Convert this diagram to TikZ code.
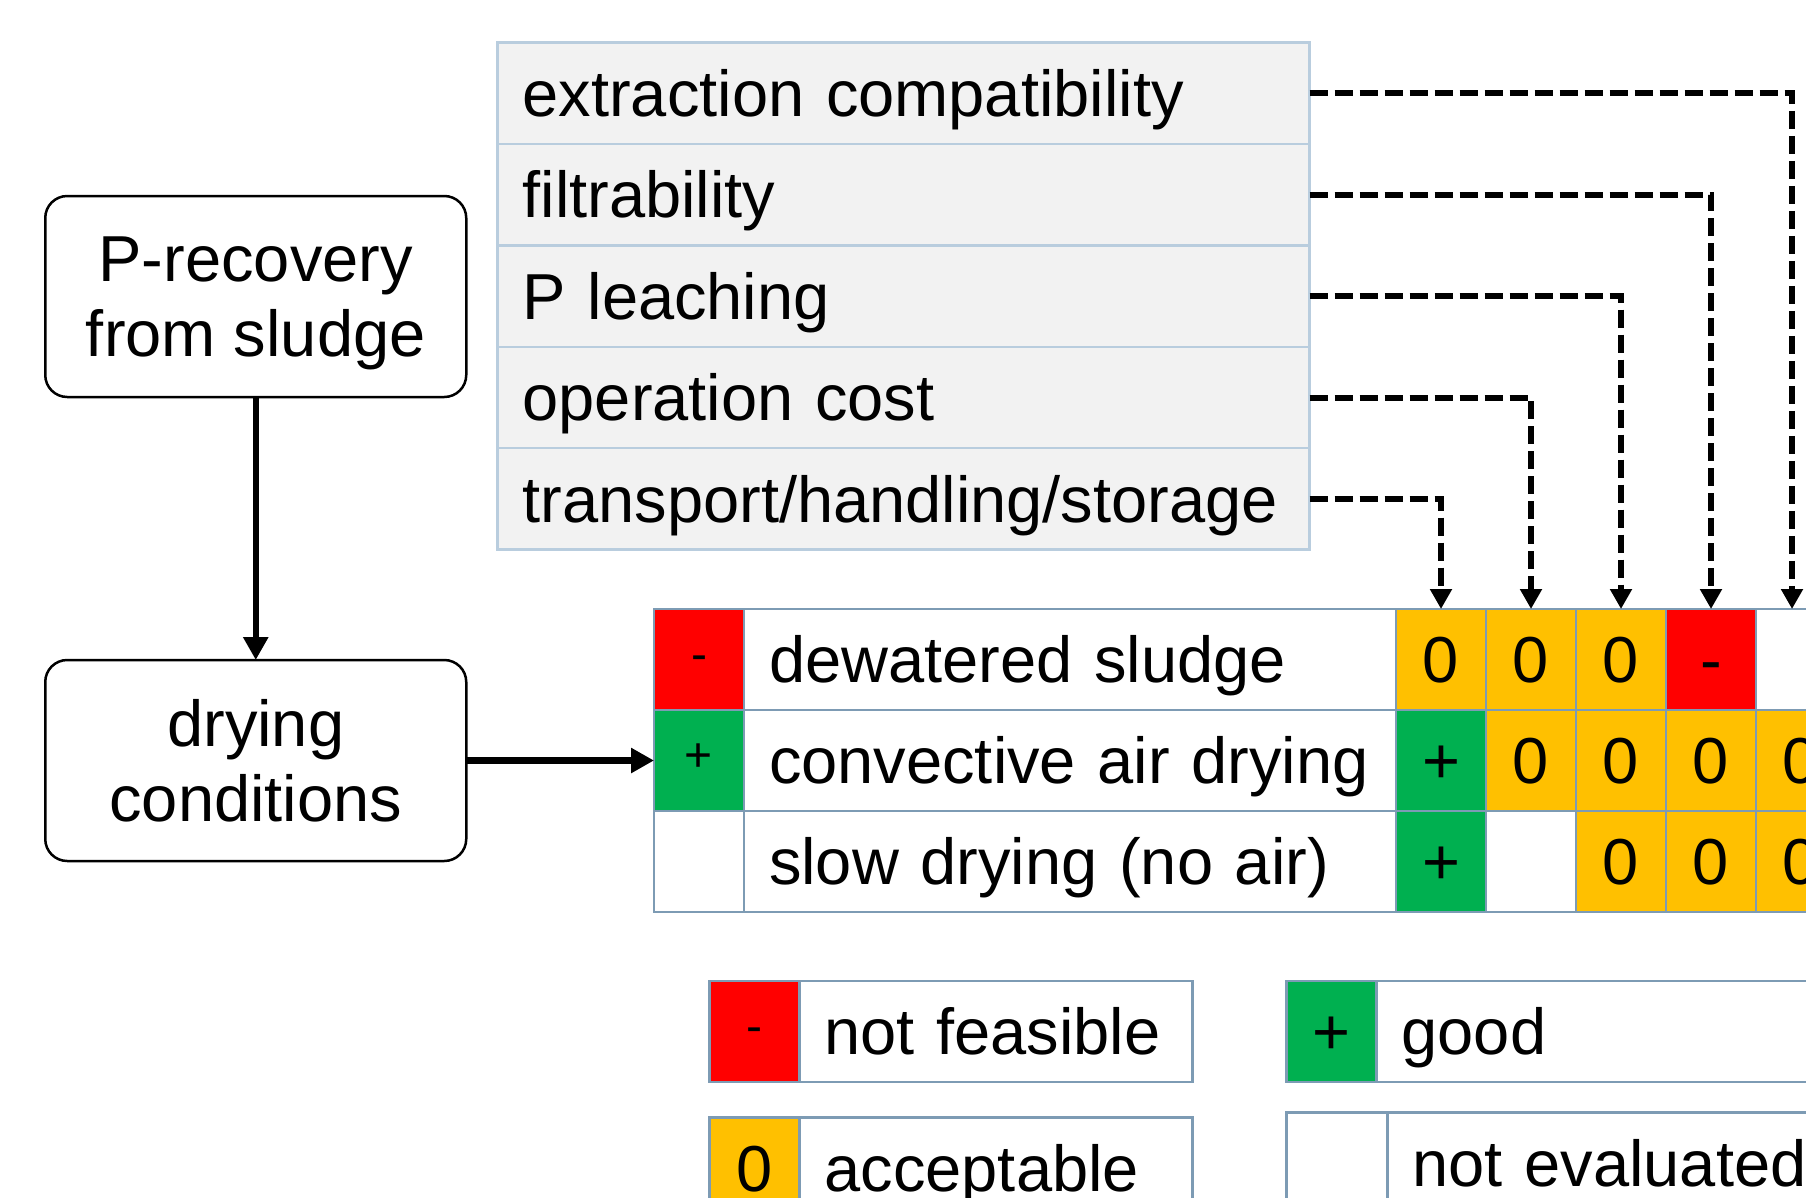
\documentclass[tikz,border=0pt]{standalone}
\usepackage{fontspec}
\setmainfont{Liberation Sans}
\usepackage{tikz}
\usetikzlibrary{positioning,arrows.meta}
\definecolor{critfill}{RGB}{242,242,242}
\definecolor{critline}{RGB}{185,205,222}
\definecolor{tblline}{RGB}{125,155,180}
\definecolor{cred}{RGB}{255,0,0}
\definecolor{camber}{RGB}{255,192,0}
\definecolor{cgreen}{RGB}{0,176,80}
\tikzset{
  big/.style={font=\fontsize{65}{75}\selectfont},
  flowbox/.style={draw,
    rounded corners=22pt,
    line width=2.5pt,
    outer sep=0pt,
    minimum width=421pt,
    minimum height=201pt,
    align=center,
    big},
  flowarrow/.style={->,>={Triangle[length=23pt,width=24pt]},line width=6.5pt},
  dasharrow/.style={->,>={Triangle[length=20pt,width=21pt]},line width=6pt,
    dash pattern=on 18pt off 7pt},
  critrow/.style={draw=critline,fill=critfill,line width=2.5pt,outer sep=0pt,
    inner xsep=25pt,text width=762pt,align=left,minimum height=101.4pt,
    text height=46.5pt,text depth=0pt,big},
  cell/.style={draw=tblline,line width=2.5pt,outer sep=0pt,inner sep=0pt,
    minimum width=90pt,minimum height=101pt,text height=46.5pt,text depth=0pt,big},
  labelcell/.style={cell,inner xsep=25pt,text width=#1,align=left},
  redcell/.style={cell,fill=cred},
  ambercell/.style={cell,fill=camber},
  greencell/.style={cell,fill=cgreen},
  small sym/.style={font=\fontsize{48}{56}\selectfont,text height=34pt,text depth=12pt}
}
\begin{document}
\begin{tikzpicture}[x=1pt,y=-1pt]
      \useasboundingbox (0,0) rectangle (1806,1197);
      \clip (0,0) rectangle (1806,1197);
      \fill[white] (0,0) rectangle (1806,1197);
      \node[critrow,anchor=north west] (extr) at (497.6,42.6) {extraction compatibility};
      \node[critrow,below=0pt of extr] (filt) {filtrability};
      \node[critrow,below=0pt of filt] (leach) {P leaching};
      \node[critrow,below=0pt of leach] (cost) {operation cost};
      \node[critrow,below=0pt of cost] (trans) {transport/handling/storage};
      \node[flowbox,text depth=0pt] (recov) at (255.75,296.5) {P-recovery\\from sludge};
      \node[flowbox,below=263pt of recov] (dry) {drying\\conditions};
      \node[redcell,small sym,anchor=north west] (s1) at (654,609) {-};
      \node[labelcell=602pt,right=0pt of s1] (l1) {dewatered sludge};
      \node[ambercell,right=0pt of l1] (c11) {0};
      \node[ambercell,right=0pt of c11] (c12) {0};
      \node[ambercell,right=0pt of c12] (c13) {0};
      \node[redcell,right=0pt of c13] (c14) {-};
      \node[cell,right=0pt of c14] (c15) {};
      \node[greencell,small sym,below=0pt of s1] (s2) {+};
      \node[labelcell=602pt,right=0pt of s2] (l2) {convective air drying};
      \node[greencell,right=0pt of l2] (c21) {+};
      \node[ambercell,right=0pt of c21] (c22) {0};
      \node[ambercell,right=0pt of c22] (c23) {0};
      \node[ambercell,right=0pt of c23] (c24) {0};
      \node[ambercell,right=0pt of c24] (c25) {0};
      \node[cell,below=0pt of s2] (s3) {};
      \node[labelcell=602pt,right=0pt of s3] (l3) {slow drying (no air)};
      \node[greencell,right=0pt of l3] (c31) {+};
      \node[cell,right=0pt of c31] (c32) {};
      \node[ambercell,right=0pt of c32] (c33) {0};
      \node[ambercell,right=0pt of c33] (c34) {0};
      \node[ambercell,right=0pt of c34] (c35) {0};
      \node[redcell,small sym,anchor=north west] (key1s) at (709.5,981) {-};
      \node[labelcell=343pt,right=0pt of key1s] (key1) {not feasible};
      \node[greencell,anchor=north west] (key2s) at (1286.6,981) {+};
      \node[labelcell=510pt,right=0pt of key2s] (key2) {good};
      \node[ambercell,anchor=north west] (key3s) at (709.5,1117.3) {0};
      \node[labelcell=343pt,right=0pt of key3s] (key3) {acceptable};
      \node[cell,minimum width=101pt,anchor=north west] (key4s) at (1286.6,1112.6) {};
      \node[labelcell=510pt,right=0pt of key4s] (key4) {not evaluated};
      \draw[flowarrow] (recov) -- (dry);
      \draw[flowarrow] (dry) -- (s2);
      \draw[dasharrow] (extr.east) -| ([xshift=-9pt]c15.north);
      \draw[dasharrow] (filt.east) -| (c14.north);
      \draw[dasharrow] (leach.east) -| (c13.north);
      \draw[dasharrow] (cost.east) -| (c12.north);
      \draw[dasharrow] (trans.east) -| (c11.north);
    \end{tikzpicture}
\end{document}
